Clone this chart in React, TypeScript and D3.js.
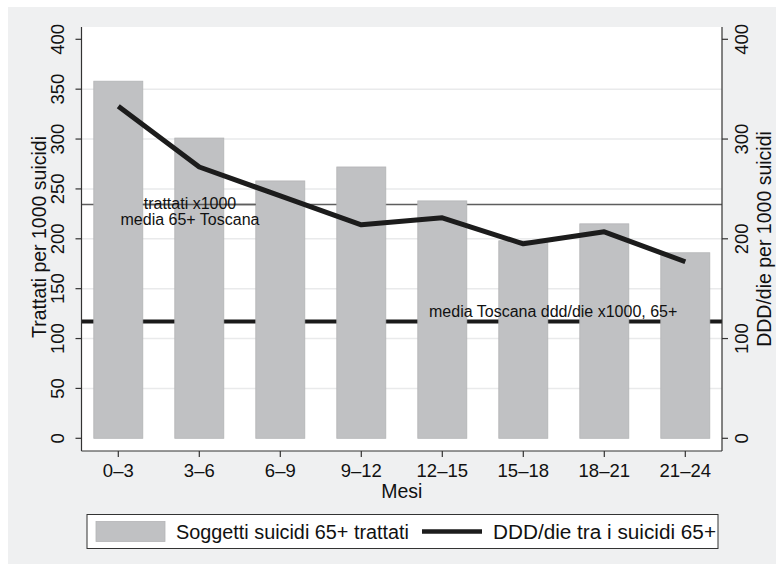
import * as d3 from 'd3';

const months = ['0–3', '3–6', '6–9', '9–12', '12–15', '15–18', '18–21', '21–24'];
const treated = [358, 301, 258, 272, 238, 198, 215, 186];
const ddd = [333, 272, 243, 214, 221, 195, 207, 177];
const leftTicks = [0, 50, 100, 150, 200, 250, 300, 350, 400];
const rightTicks = [0, 100, 200, 300, 400];
const gridTicks = [50, 100, 150, 200, 250, 300, 350];
const refTreated = 234.5;
const refDdd = 117;

const W = 784, H = 572;
const font = '"Liberation Sans", Arial, sans-serif';

const App = () => {
    const plot = { left: 81.5, right: 722, top: 27, bottom: 451 };

    const x = d3.scaleBand()
        .domain(months)
        .range([77.8, 725.8])
        .paddingInner(0.395)
        .paddingOuter(0.1975);

    const y = d3.scaleLinear().domain([0, 400]).range([438.3, 39.3]);
    const y2 = d3.scaleLinear().domain([0, 400]).range([438.3, 39.3]);

    const cx = (m) => x(m) + x.bandwidth() / 2;

    const line = d3.line()
        .x((d, i) => cx(months[i]))
        .y(d => y2(d));

    return (
        <svg width={W} height={H} style={{ position: 'absolute', left: 0, top: 0, display: 'block' }} fontFamily={font}>
            <rect x={8} y={7} width={768} height={557} fill="#eff0f1" />
            <rect x={plot.left} y={plot.top} width={plot.right - plot.left} height={plot.bottom - plot.top} fill="#ffffff" />

            {/* grid */}
            {gridTicks.map(t => (
                <line key={'g' + t} x1={plot.left} x2={plot.right} y1={y(t)} y2={y(t)} stroke="#e9eaeb" strokeWidth={1.5} />
            ))}

            {/* reference lines behind the bars */}
            <line x1={plot.left} x2={plot.right} y1={y(refTreated)} y2={y(refTreated)} stroke="#5e5e5e" strokeWidth={1.5} />
            <line x1={plot.left} x2={plot.right} y1={y(refDdd)} y2={y(refDdd)} stroke="#1a1a1a" strokeWidth={4} />

            {/* bars */}
            {treated.map((v, i) => (
                <rect key={'b' + i} x={x(months[i])} y={y(v)} width={x.bandwidth()} height={y(0) - y(v)}
                    fill="#c0c1c3" stroke="#b3b4b6" strokeWidth={0.8} />
            ))}

            {/* bit of the thin line left over the second bar */}
            <line x1={x(months[0]) + x.bandwidth()} x2={x(months[2])} y1={y(refTreated)} y2={y(refTreated)} stroke="#5e5e5e" strokeWidth={1.5} />

            {/* ddd line */}
            <path d={line(ddd)} fill="none" stroke="#1c1c1c" strokeWidth={5} strokeLinejoin="round" />

            {/* annotations */}
            <text x={190} y={208.5} fontSize={16} textAnchor="middle" fill="#111">trattati x1000</text>
            <text x={190} y={225} fontSize={16} textAnchor="middle" fill="#111">media 65+ Toscana</text>
            <text x={429} y={317.3} fontSize={16} fill="#111">media Toscana ddd/die x1000, 65+</text>

            {/* left axis */}
            <line x1={plot.left} x2={plot.left} y1={plot.top} y2={plot.bottom} stroke="#333" strokeWidth={1.2} />
            {leftTicks.map(t => (
                <g key={'l' + t}>
                    <line x1={plot.left - 6} x2={plot.left} y1={y(t)} y2={y(t)} stroke="#333" strokeWidth={1.2} />
                    <text transform={`translate(63.5,${y(t)}) rotate(-90)`} fontSize={18.5} textAnchor="middle" fill="#111">{t}</text>
                </g>
            ))}
            <text transform={`translate(45.7,237) rotate(-90)`} fontSize={19.5} textAnchor="middle" fill="#111">Trattati per 1000 suicidi</text>

            {/* right axis */}
            <line x1={plot.right} x2={plot.right} y1={plot.top} y2={plot.bottom} stroke="#333" strokeWidth={1.2} />
            {rightTicks.map(t => (
                <g key={'r' + t}>
                    <line x1={plot.right} x2={plot.right + 6} y1={y2(t)} y2={y2(t)} stroke="#333" strokeWidth={1.2} />
                    <text transform={`translate(748.3,${y2(t)}) rotate(-90)`} fontSize={18.5} textAnchor="middle" fill="#111">{t}</text>
                </g>
            ))}
            <text transform={`translate(770.5,239) rotate(-90)`} fontSize={19.5} textAnchor="middle" fill="#111">DDD/die per 1000 suicidi</text>

            {/* bottom axis */}
            <line x1={plot.left} x2={plot.right} y1={plot.bottom} y2={plot.bottom} stroke="#333" strokeWidth={1.2} />
            {months.map(m => (
                <g key={'x' + m}>
                    <line x1={cx(m)} x2={cx(m)} y1={plot.bottom} y2={plot.bottom + 6} stroke="#333" strokeWidth={1.2} />
                    <text x={cx(m)} y={476.7} fontSize={18.5} textAnchor="middle" fill="#111">{m}</text>
                </g>
            ))}
            <text x={(plot.left + plot.right) / 2} y={498.3} fontSize={19.5} textAnchor="middle" fill="#111">Mesi</text>

            {/* legend */}
            <rect x={87} y={514.5} width={631} height={34} fill="#ffffff" stroke="#333" strokeWidth={1} />
            <rect x={96} y={521.5} width={69} height={20} fill="#c0c1c3" stroke="#b3b4b6" strokeWidth={0.8} />
            <text x={176} y={538.5} fontSize={19.5} fill="#111" textLength={233} lengthAdjust="spacingAndGlyphs">Soggetti suicidi 65+ trattati</text>
            <line x1={422} x2={482} y1={531.5} y2={531.5} stroke="#1c1c1c" strokeWidth={4.5} />
            <text x={493} y={538.5} fontSize={19.5} fill="#111" textLength={223} lengthAdjust="spacingAndGlyphs">DDD/die tra i suicidi 65+</text>
        </svg>
    );
};

export default App;
